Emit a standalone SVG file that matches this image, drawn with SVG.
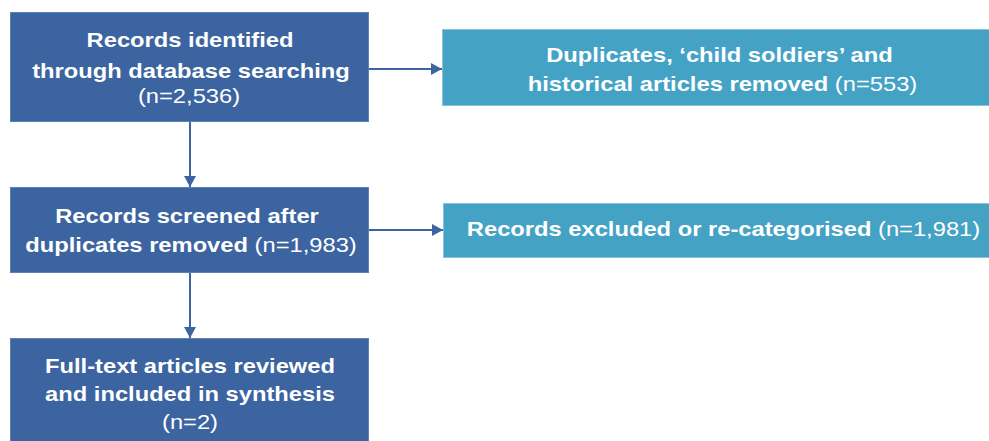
<svg xmlns="http://www.w3.org/2000/svg" width="989" height="441" viewBox="0 0 989 441">
<style>
.dark{fill:#3B64A0;stroke:#5A82B8;stroke-width:1}
.light{fill:#44A2C5;stroke:#86C4DC;stroke-width:1}
text{font-family:"Liberation Sans",Arial,sans-serif;font-size:21px;fill:#FFFFFF;text-anchor:middle}
.b{font-weight:bold}
.n{font-weight:normal}
.conn{stroke:#3B64A0;stroke-width:2;fill:none}
</style>
<defs>
<marker id="ah" markerWidth="11" markerHeight="12" refX="11" refY="6" orient="auto" markerUnits="userSpaceOnUse">
<path d="M0,0 L11,6 L0,12 Z" fill="#3B64A0"/>
</marker>
</defs>
<rect width="989" height="441" fill="#FFFFFF"/>
<g id="connectors">
<line class="conn" x1="369" y1="69" x2="442" y2="69" marker-end="url(#ah)"/>
<line class="conn" x1="369" y1="230" x2="443" y2="230" marker-end="url(#ah)"/>
<line class="conn" x1="190" y1="122" x2="190" y2="187" marker-end="url(#ah)"/>
<line class="conn" x1="190" y1="273" x2="190" y2="338" marker-end="url(#ah)"/>
</g>
<g id="node-identified">
<rect class="dark" x="10.5" y="12.5" width="358" height="109"/>
<text class="b" transform="matrix(1.13 0 0 1 190 47)">Records identified</text>
<text class="b" transform="matrix(1.13 0 0 1 191 78)">through database searching</text>
<text class="n" transform="matrix(1.13 0 0 1 189 103)">(n=2,536)</text>
</g>
<g id="node-duplicates-removed">
<rect class="light" x="442.5" y="29.5" width="560" height="76"/>
<text class="b" transform="matrix(1.13 0 0 1 719.5 62)">Duplicates, ‘child soldiers’ and</text>
<text transform="matrix(1.13 0 0 1 722.5 91)"><tspan class="b">historical articles removed </tspan><tspan class="n">(n=553)</tspan></text>
</g>
<g id="node-screened">
<rect class="dark" x="10.5" y="187.5" width="358" height="85"/>
<text class="b" transform="matrix(1.13 0 0 1 187 223)">Records screened after</text>
<text transform="matrix(1.13 0 0 1 191 252)"><tspan class="b">duplicates removed </tspan><tspan class="n">(n=1,983)</tspan></text>
</g>
<g id="node-excluded">
<rect class="light" x="443.5" y="203.5" width="560" height="54"/>
<text transform="matrix(1.13 0 0 1 723.5 236)"><tspan class="b">Records excluded or re-categorised </tspan><tspan class="n">(n=1,981)</tspan></text>
</g>
<g id="node-included">
<rect class="dark" x="10.5" y="338.5" width="358" height="110"/>
<text class="b" transform="matrix(1.13 0 0 1 190 373)">Full-text articles reviewed</text>
<text class="b" transform="matrix(1.13 0 0 1 190 401)">and included in synthesis</text>
<text class="n" transform="matrix(1.13 0 0 1 190 429)">(n=2)</text>
</g>
</svg>
